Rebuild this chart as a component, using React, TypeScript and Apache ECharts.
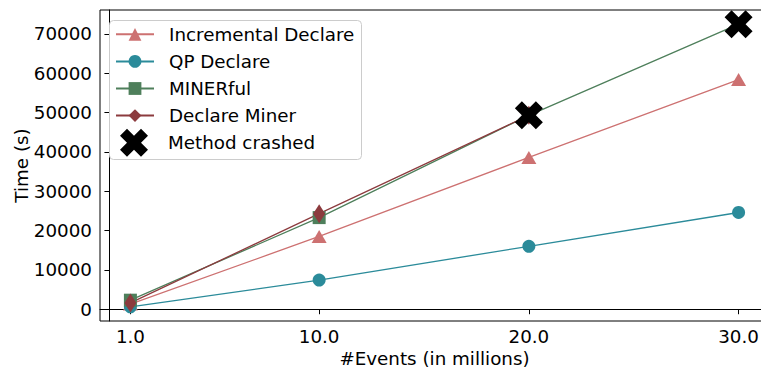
import React, { useEffect, useRef } from "react";
import * as echarts from "echarts";

// Event log sizes (millions of events) and mining times (seconds)
const events = [1, 10, 20, 30];
const xTicks = [1, 10, 20, 30];
const yTicks = [0, 10000, 20000, 30000, 40000, 50000, 60000, 70000];

const incrementalDeclare = [1300, 18500, 38600, 58400];
const qpDeclare = [600, 7400, 16000, 24600];
const minerful = [2300, 23300, 49300, 72500];
const declareMiner = [1600, 24300, 49300];

// Runs that crashed
const crashedEvents = [20, 30];
const crashedTimes = [49300, 72500];

const seriesNames = ["Incremental Declare", "QP Declare", "MINERful", "Declare Miner", "Method crashed"];
const colors = ["#cd7171", "#2b8b9a", "#4e7f5b", "#8c3b3e", "#000000"];

const FONT = "DejaVu Sans";
// filled "X" marker
const X_PATH = "path://M1,0 L2,1 L3,0 L4,1 L3,2 L4,3 L3,4 L2,3 L1,4 L0,3 L1,2 L0,1 Z";

const zip = (xs: number[], ys: number[]) => ys.map((y, i) => [xs[i], y]);

export default function App() {
  const ref = useRef<HTMLDivElement>(null);

  useEffect(() => {
    if (!ref.current) return;
    const chart = echarts.init(ref.current, undefined, { renderer: "svg" });

    const allY = [...incrementalDeclare, ...qpDeclare, ...minerful, ...declareMiner, ...crashedTimes];
    const yLo = Math.min(...allY);
    const yHi = Math.max(...allY);
    const yPad = (yHi - yLo) * 0.05;
    const xPad = (Math.max(...events) - Math.min(...events)) * 0.05;

    const lineSeries = (name: string, data: number[], color: string, symbol: string, size: number | number[]) => ({
      name,
      type: "line",
      data: zip(events, data),
      symbol,
      symbolSize: size,
      showSymbol: true,
      showAllSymbol: true,
      lineStyle: { color, width: 1.3 },
      itemStyle: { color, borderWidth: 0, opacity: 1 },
      emphasis: { disabled: true },
    });

    const labelStyle = { color: "#000", fontFamily: FONT, fontSize: 18.3 };

    chart.setOption({
      animation: false,
      backgroundColor: "#fff",
      grid: {
        left: 100,
        top: 10,
        width: 669,
        height: 311,
        show: true,
        borderColor: "#000",
        borderWidth: 1,
        containLabel: false,
        outerBoundsMode: "none",
      },
      xAxis: {
        type: "value",
        min: Math.min(...events) - xPad,
        max: Math.max(...events) + xPad,
        name: "#Events (in millions)",
        nameLocation: "middle",
        nameGap: 28,
        nameMoveOverlap: false,
        nameTextStyle: { ...labelStyle, lineHeight: 18 },
        splitLine: { show: false },
        axisLine: { lineStyle: { color: "#000", width: 1 } },
        axisTick: { show: true, length: 5, lineStyle: { color: "#000" }, customValues: xTicks },
        axisLabel: { ...labelStyle, lineHeight: 18, margin: 6, customValues: xTicks, formatter: (v: number) => v.toFixed(1) },
      },
      yAxis: {
        type: "value",
        min: yLo - yPad,
        max: yHi + yPad,
        name: "Time (s)",
        nameLocation: "middle",
        nameGap: 70,
        nameRotate: 90,
        nameMoveOverlap: false,
        nameTextStyle: { ...labelStyle, lineHeight: 18 },
        splitLine: { show: false },
        axisLine: { show: true, lineStyle: { color: "#000", width: 1 } },
        axisTick: { show: true, length: 5, lineStyle: { color: "#000" }, customValues: yTicks },
        axisLabel: { ...labelStyle, margin: 8, customValues: yTicks, formatter: (v: number) => String(v) },
      },
      graphic: [
        {
          type: "rect",
          z: 3,
          shape: { x: 109.5, y: 20.5, width: 252, height: 139, r: 4 },
          style: { fill: "rgba(255,255,255,0.8)", stroke: "#cccccc", lineWidth: 1 },
        },
      ],
      legend: [
        {
          data: seriesNames.slice(0, 4),
          orient: "vertical",
          left: 115,
          top: 25.3,
          padding: 0,
          itemWidth: 38,
          itemHeight: 16,
          itemGap: 9.1,
          selectedMode: false,
          textStyle: { ...labelStyle, lineHeight: 18, padding: [0, 0, 0, 10] },
        },
        {
          data: [{ name: seriesNames[4], icon: X_PATH, itemStyle: { color: "#000", opacity: 1 } }],
          orient: "vertical",
          left: 120,
          top: 128.7,
          padding: 0,
          itemWidth: 28,
          itemHeight: 28,
          selectedMode: false,
          textStyle: { ...labelStyle, lineHeight: 18, padding: [0, 0, 0, 15] },
        },
      ],
      series: [
        lineSeries(seriesNames[0], incrementalDeclare, colors[0], "triangle", [15, 13]),
        lineSeries(seriesNames[1], qpDeclare, colors[1], "circle", 13),
        lineSeries(seriesNames[2], minerful, colors[2], "rect", 13),
        lineSeries(seriesNames[3], declareMiner, colors[3], "diamond", [12, 19]),
        {
          name: seriesNames[4],
          type: "scatter",
          data: zip(crashedEvents, crashedTimes),
          symbol: X_PATH,
          symbolSize: 28,
          symbolKeepAspect: true,
          itemStyle: { color: colors[4], opacity: 1 },
          emphasis: { disabled: true },
          z: 3,
        },
      ],
    });

    return () => chart.dispose();
  }, []);

  return (
    <div
      ref={ref}
      style={{ position: "absolute", left: 0, top: 0, width: 761, height: 368 }}
    />
  );
}
